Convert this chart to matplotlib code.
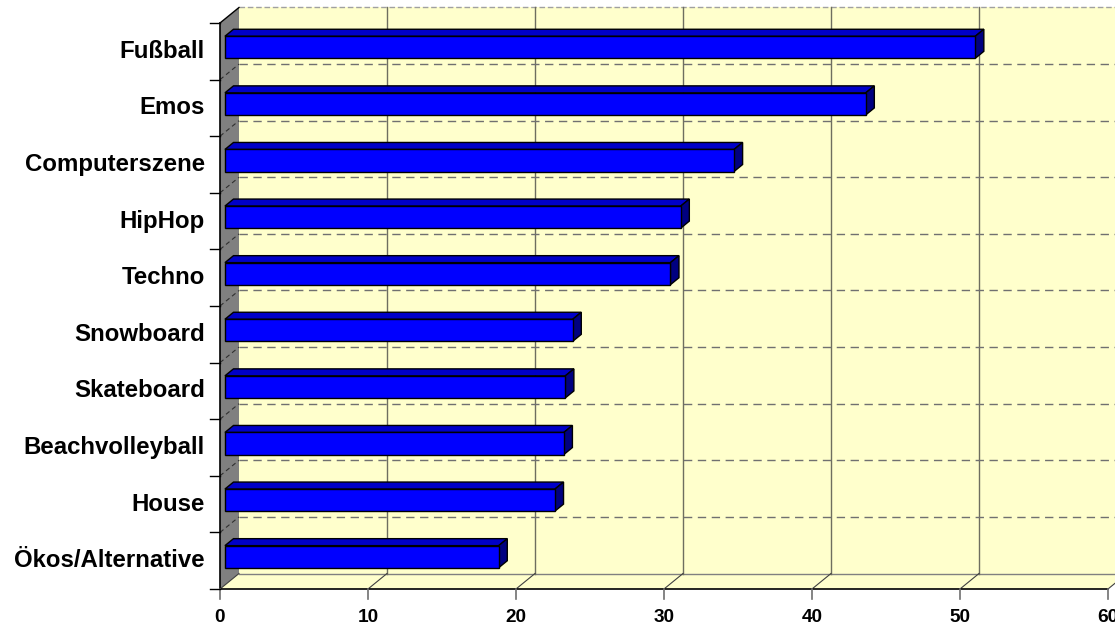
import matplotlib
matplotlib.use("Agg")
import matplotlib.pyplot as plt
from matplotlib.patches import Polygon, Rectangle

plt.rcParams['font.family'] = ['Liberation Sans', 'DejaVu Sans']

categories = ["Fußball", "Emos", "Computerszene", "HipHop", "Techno",
              "Snowboard", "Skateboard", "Beachvolleyball", "House",
              "Ökos/Alternative"]
values = [50.7, 43.3, 34.4, 30.8, 30.1, 23.5, 23.0, 22.9, 22.3, 18.5]
x_ticks = [0, 10, 20, 30, 40, 50, 60]

W, H, DPI = 1115, 627, 100
fig = plt.figure(figsize=(W / DPI, H / DPI), dpi=DPI)
fig.patch.set_facecolor("white")

# front plane of the 3D box
left, right, bottom, top = 220, 1108, 589, 23
ax = fig.add_axes([left / W, (H - bottom) / H, (right - left) / W, (bottom - top) / H])
ax.set_xlim(0, 60)
n = len(categories)
ax.set_ylim(n - 0.5, -0.5)
ax.axis("off")

# depth of the box, expressed in data units (pixels -> data)
depth_px_x, depth_px_y = 19.0, 15.5
px_per_x = ax.bbox.width / 60.0
px_per_y = ax.bbox.height / n
DX = depth_px_x / px_per_x
DY = -depth_px_y / px_per_y


def at(x, y, t):
    return (x + t * DX, y + t * DY)


ymin, ymax = -0.5, n - 0.5
xmax = 60
wall = "#FFFFCC"

# back wall
back = Polygon([at(0, ymin, 1), at(xmax + 2, ymin, 1), at(xmax + 2, ymax, 1), at(0, ymax, 1)],
               closed=True, facecolor=wall, edgecolor="none", clip_on=False, zorder=1)
ax.add_patch(back)
ax.plot([at(0, ymin, 1)[0], at(xmax + 2, ymin, 1)[0]], [at(0, ymin, 1)[1]] * 2,
        color="#A0A0A0", lw=1.0, ls=(0, (4, 2)), clip_on=False, zorder=2)

# floor (bottom wall)
floor = Polygon([at(0, ymax, 0), at(0, ymax, 1), at(xmax, ymax, 1), at(xmax, ymax, 0)],
                closed=True, facecolor=wall, edgecolor="none", clip_on=False, zorder=2)
ax.add_patch(floor)
ax.plot([at(0, ymax, 1)[0], at(xmax, ymax, 1)[0]], [at(0, ymax, 1)[1]] * 2,
        color="#808080", lw=1.0, clip_on=False, zorder=3)

# value gridlines on back wall and floor
for v in x_ticks[1:]:
    p0, p1 = at(v, ymin, 1), at(v, ymax, 1)
    ax.plot([p0[0], p1[0]], [p0[1], p1[1]], color="#6E6E60", lw=1.0, clip_on=False, zorder=3)
    f0, f1 = at(v, ymax, 0), at(v, ymax, 1)
    ax.plot([f0[0], f1[0]], [f0[1], f1[1]], color="#404040", lw=0.8, clip_on=False, zorder=3)

# category gridlines (dashed) on back wall
for b in range(1, n):
    yb = b - 0.5
    p0, p1 = at(0, yb, 1), at(xmax + 2, yb, 1)
    ax.plot([p0[0], p1[0]], [p0[1], p1[1]], color="#707070", lw=1.0,
            ls=(0, (6, 4)), clip_on=False, zorder=3)

# left side wall
side = Polygon([at(0, ymin, 0), at(0, ymin, 1), at(0, ymax, 1), at(0, ymax, 0)],
               closed=True, facecolor="#808080", edgecolor="none", clip_on=False, zorder=4)
ax.add_patch(side)
for b in range(1, n):
    yb = b - 0.5
    p0, p1 = at(0, yb, 0), at(0, yb, 1)
    ax.plot([p0[0], p1[0]], [p0[1], p1[1]], color="#303030", lw=0.8,
            ls=(0, (4, 3)), clip_on=False, zorder=5)
p0, p1 = at(0, ymin, 0), at(0, ymin, 1)
ax.plot([p0[0], p1[0]], [p0[1], p1[1]], color="black", lw=1.0, clip_on=False, zorder=5)
p0, p1 = at(0, ymax, 0), at(0, ymax, 1)
ax.plot([p0[0], p1[0]], [p0[1], p1[1]], color="#404040", lw=0.8, clip_on=False, zorder=5)

# front axes lines and ticks
ax.plot([0, xmax], [ymax, ymax], color="black", lw=1.2, clip_on=False, zorder=6)
ax.plot([0, 0], [ymin, ymax], color="black", lw=1.2, clip_on=False, zorder=6)
tick_len_x = 10 / px_per_y
for v in x_ticks:
    ax.plot([v, v], [ymax, ymax + tick_len_x], color="#707070", lw=1.2, clip_on=False, zorder=6)
    ax.text(v, ymax + 28 / px_per_y, str(v), ha="center", va="center",
            fontsize=13.7, fontweight="bold", color="black", clip_on=False)
tick_len_y = 10 / px_per_x
for b in range(n + 1):
    yb = b - 0.5
    ax.plot([-tick_len_y, 0], [yb, yb], color="black", lw=1.0, clip_on=False, zorder=6)

for i, c in enumerate(categories):
    ax.text(-15 / px_per_x, i, c, ha="right", va="center", fontsize=17.3,
            fontweight="bold", color="black", clip_on=False)

# 3D bars
t_front, t_back = 0.26, 0.71
h = 0.39
for i, v in enumerate(values):
    y0, y1 = i - h / 2, i + h / 2
    top_face = Polygon([at(0, y0, t_front), at(v, y0, t_front), at(v, y0, t_back), at(0, y0, t_back)],
                       closed=True, facecolor="#0000C8", edgecolor="black", lw=1.0,
                       clip_on=False, zorder=7)
    side_face = Polygon([at(v, y0, t_front), at(v, y1, t_front), at(v, y1, t_back), at(v, y0, t_back)],
                        closed=True, facecolor="#000080", edgecolor="black", lw=1.0,
                        clip_on=False, zorder=7)
    fx, fy = at(0, y0, t_front)
    front_face = Rectangle((fx, fy), v, h, facecolor="#0000FF", edgecolor="black",
                           lw=1.0, clip_on=False, zorder=8)
    ax.add_patch(top_face)
    ax.add_patch(side_face)
    ax.add_patch(front_face)

fig.savefig("out.png", dpi=DPI, facecolor="white")
